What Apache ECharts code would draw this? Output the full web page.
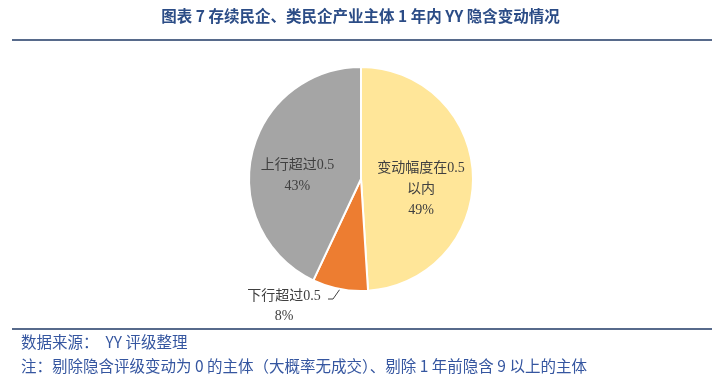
<!DOCTYPE html>
<html><head><meta charset="utf-8">
<script src="https://cdn.jsdelivr.net/npm/echarts@6/dist/echarts.min.js"></script>
<style>html,body{margin:0;padding:0;background:#fff}#c{width:721px;height:389px}</style>
</head><body><div id="c"></div>
<script>
const categories = ['变动幅度在0.5\n以内', '下行超过0.5', '上行超过0.5'];
const values = [49, 8, 43];
const colors = ['#FFE699', '#ED7D31', '#A5A5A5'];
const titleText = '图表 7 存续民企、类民企产业主体 1 年内 YY 隐含变动情况';
const sourceText = '数据来源：  YY 评级整理';
const noteText = '注：剔除隐含评级变动为 0 的主体（大概率无成交）、剔除 1 年前隐含 9 以上的主体';

const chart = echarts.init(document.getElementById('c'), null, {renderer: 'canvas'});
const serif = '"Liberation Serif","Noto Sans CJK SC",serif';
const offsets = [[1, 12], [0, 0], [-6, 10]];
const data = categories.map((n, i) => {
  const d = {name: n, value: values[i], itemStyle: {color: colors[i]}, label: {offset: offsets[i]}};
  if (i === 1) {
    d.label = {position: 'outside', align: 'center', lineHeight: 20};
    d.labelLine = {show: true, length: 8, length2: 6, lineStyle: {color: '#404040', width: 1}};
  }
  return d;
});
chart.setOption({
  animation: false,
  graphic: [
    {type: 'text', left: 'center', top: 8, style: {text: titleText, font: 'bold 15.5px "Noto Sans CJK SC", sans-serif', fill: '#2B4C86'}},
    {type: 'line', shape: {x1: 12, y1: 40, x2: 712, y2: 40}, style: {stroke: '#1F3864', lineWidth: 1.5}},
    {type: 'line', shape: {x1: 12, y1: 329, x2: 712, y2: 329}, style: {stroke: '#1F3864', lineWidth: 1.5}},
    {type: 'text', left: 21, top: 334, style: {text: sourceText, font: '15.5px "Noto Sans CJK SC", sans-serif', fill: '#3556A0'}},
    {type: 'text', left: 21, top: 358, style: {text: noteText, font: '15.5px "Noto Sans CJK SC", sans-serif', fill: '#3556A0'}}
  ],
  series: [{
    type: 'pie',
    center: [361, 179],
    radius: [0, 112],
    startAngle: 90,
    clockwise: true,
    itemStyle: {borderColor: '#fff', borderWidth: 2},
    label: {
      show: true, position: 'inside',
      formatter: p => p.name + '\n' + p.value + '%',
      color: '#404040', fontSize: 14, fontFamily: serif, lineHeight: 21
    },
    labelLine: {show: false},
    labelLayout: function (p) {
      if (p.dataIndex === 1 && p.labelLinePoints) {
        const e = p.labelLinePoints[0];
        const m = [e[0] - 7, e[1] + 10];
        const t = [m[0] - 5, m[1]];
        return {x: t[0] - 44, y: t[1] + 7, align: 'center', verticalAlign: 'middle',
                labelLinePoints: [e, m, t]};
      }
    },
    data: data
  }]
});
</script></body></html>
